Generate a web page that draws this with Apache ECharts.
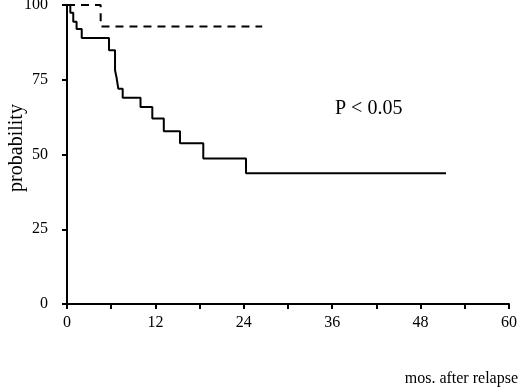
<!DOCTYPE html>
<html>
<head>
<meta charset="utf-8">
<script src="https://cdn.jsdelivr.net/npm/echarts@6/dist/echarts.min.js"></script>
<style>html,body{margin:0;padding:0;background:#fff}#c{width:520px;height:390px}</style>
</head>
<body>
<div id="c"></div>
<script>
// Relapse group (solid)
var solidMonths = [0, 0.45, 0.85, 1.3, 2.0, 5.7, 6.52, 6.75, 6.96, 7.56, 9.98, 11.58, 13.14, 15.34, 18.5, 24.3, 51.45];
var solidProb   = [100, 97.4, 94.4, 92.0, 89.0, 84.9, 78.2, 75.4, 72.0, 69.0, 65.9, 62.0, 57.8, 53.8, 48.7, 43.7, 43.7];
// Other group (dashed)
var dashedMonths = [0, 4.57, 26.5];
var dashedProb   = [100, 92.8, 92.8];
var xTickLabels = [0, 12, 24, 36, 48, 60];
var yTickLabels = [0, 25, 50, 75, 100];
var xName = 'mos. after relapse';
var yName = 'probability';
var pText = 'P < 0.05';

function zip(a, b) { return a.map(function (v, i) { return [v, b[i]]; }); }

var font = 'Liberation Serif';
var chart = echarts.init(document.getElementById('c'), null, { renderer: 'canvas' });
chart.setOption({
  animation: false,
  backgroundColor: '#fff',
  grid: { left: 67, right: 11, top: 5, bottom: 86, containLabel: false, outerBoundsMode: 'none' },
  xAxis: {
    type: 'value', min: 0, max: 60, interval: 6,
    axisLine: { lineStyle: { color: '#000', width: 2 } },
    axisTick: { show: true, length: 5, lineStyle: { color: '#000', width: 2 } },
    splitLine: { show: false },
    axisLabel: {
      margin: 11, color: '#000', fontFamily: font, fontSize: 16,
      formatter: function (v) { return xTickLabels.indexOf(v) >= 0 ? String(v) : ''; }
    }
  },
  yAxis: {
    type: 'value', min: 0, max: 100, interval: 25,
    axisLine: { show: true, lineStyle: { color: '#000', width: 2 } },
    axisTick: { show: true, length: 5, lineStyle: { color: '#000', width: 2 } },
    splitLine: { show: false },
    axisLabel: {
      margin: 19, color: '#000', fontFamily: font, fontSize: 16,
      formatter: function (v) { return yTickLabels.indexOf(v) >= 0 ? String(v) : ''; }
    }
  },
  series: [
    {
      type: 'line', step: 'end', data: zip(solidMonths, solidProb),
      symbol: 'none', lineStyle: { color: '#000', width: 2 }
    },
    {
      type: 'line', step: 'end', data: zip(dashedMonths, dashedProb),
      symbol: 'none', lineStyle: { color: '#000', width: 2, type: [8, 6] }
    }
  ],
  graphic: [
    { type: 'text', right: 2, top: 371, style: { text: xName, fill: '#000', font: '16px "Liberation Serif"' } },
    { type: 'text', left: 335, top: 99, style: { text: pText, fill: '#000', font: '20px "Liberation Serif"' } },
    { type: 'text', x: 17, y: 148, rotation: Math.PI / 2,
      style: { text: yName, fill: '#000', font: '20px "Liberation Serif"', align: 'center', verticalAlign: 'middle' } }
  ]
});
</script>
</body>
</html>
